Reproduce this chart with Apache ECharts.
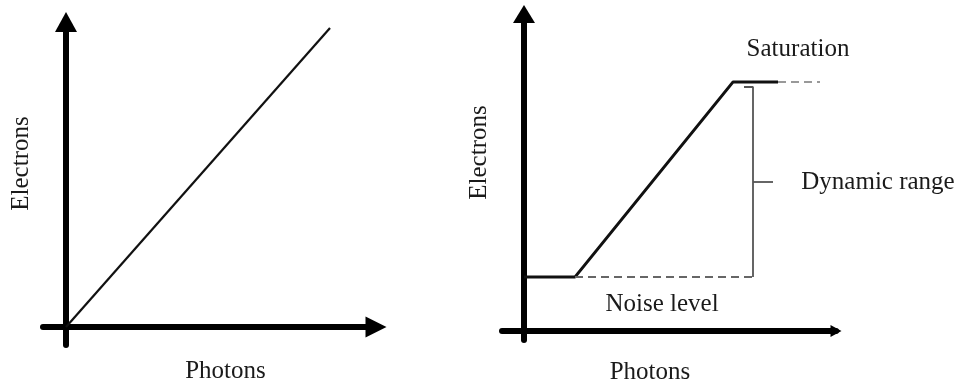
<!DOCTYPE html>
<html><head><meta charset="utf-8">
<script src="https://cdn.jsdelivr.net/npm/echarts@6/dist/echarts.min.js"></script>
<style>html,body{margin:0;padding:0;background:#fff}#c{width:965px;height:384px}</style>
</head><body><div id="c"></div>
<script>
// Left panel: linear response (arbitrary units)
const leftLine = [[0, 0], [264, 299]];
// Right panel: response with noise floor and saturation
const rightCurve = [[0, 54], [51, 54], [209, 249], [254, 249]];
const saturationDash = [[254, 249], [296, 249]];
const noiseDash = [[51, 54], [229, 54]];
const bracket = [[220, 244], [229, 244], [229, 54]];
const bracketTick = [[229, 149], [249, 149]];
const annotations = [
  {name: 'Saturation', value: [274, 282]},
  {name: 'Dynamic range', value: [354, 149]},
  {name: 'Noise level', value: [138, 27]}
];
const xName = 'Photons';
const yName = 'Electrons';

const FONT = '"Liberation Serif", "Times New Roman", serif';
const TXT = '#1a1a1a';

function xAxis(gi, min, max, arrow, gap, padding) {
  return {
    type: 'value', gridIndex: gi, min: min, max: max,
    name: xName, nameLocation: 'middle', nameGap: gap,
    nameTextStyle: {fontFamily: FONT, fontSize: 25, color: TXT, padding: padding},
    axisLine: {onZero: true, lineStyle: {color: '#000', width: 6},
      symbol: ['none', 'triangle'], symbolSize: arrow},
    axisTick: {show: false}, axisLabel: {show: false}, splitLine: {show: false}
  };
}
function yAxis(gi, min, max, arrow, gap, padding) {
  return {
    type: 'value', gridIndex: gi, min: min, max: max,
    name: yName, nameLocation: 'middle', nameGap: gap, nameRotate: 90,
    nameTextStyle: {fontFamily: FONT, fontSize: 25, color: TXT, padding: padding},
    axisLine: {onZero: true, lineStyle: {color: '#000', width: 6},
      symbol: ['none', 'triangle'], symbolSize: arrow},
    axisTick: {show: false}, axisLabel: {show: false}, splitLine: {show: false}
  };
}
function line(gi, data, color, width, type) {
  return {type: 'line', xAxisIndex: gi, yAxisIndex: gi, data: data, showSymbol: false, symbol: 'none',
    lineStyle: {color: color, width: width, type: type || 'solid'}, silent: true, animation: false, z: 3};
}

const chart = echarts.init(document.getElementById('c'), null, {renderer: 'canvas'});
chart.setOption({
  backgroundColor: '#fff',
  animation: false,
  grid: [
    {left: 43, top: 22, width: 333, height: 323, containLabel: false, outerBoundsMode: 'none'},
    {left: 502, top: 14, width: 334, height: 326, containLabel: false, outerBoundsMode: 'none'}
  ],
  xAxis: [
    xAxis(0, -23, 310, [21, 21], 14, [0, 0, 0, 32]),
    xAxis(1, -22, 312, [12, 11], 20, [0, 38, 0, 0])
  ],
  yAxis: [
    yAxis(0, -18, 305, [22, 20], 9, [0, 0, 0, 40]),
    yAxis(1, -9, 317, [22, 18], 10, [0, 0, 0, 49])
  ],
  series: [
    line(0, leftLine, '#111', 2.2),
    line(1, rightCurve, '#111', 2.8),
    line(1, saturationDash, '#999', 2, [8, 5]),
    line(1, noiseDash, '#666', 1.8, [8, 5]),
    line(1, bracket, '#555', 1.8),
    line(1, bracketTick, '#555', 1.8),
    {type: 'scatter', xAxisIndex: 1, yAxisIndex: 1, data: annotations, symbolSize: 0, clip: false,
     silent: true, animation: false, itemStyle: {opacity: 1, color: TXT},
     label: {show: true, position: 'inside', formatter: '{b}', fontFamily: FONT, fontSize: 25,
       color: TXT, textBorderWidth: 0, opacity: 1}}
  ]
});
</script></body></html>
